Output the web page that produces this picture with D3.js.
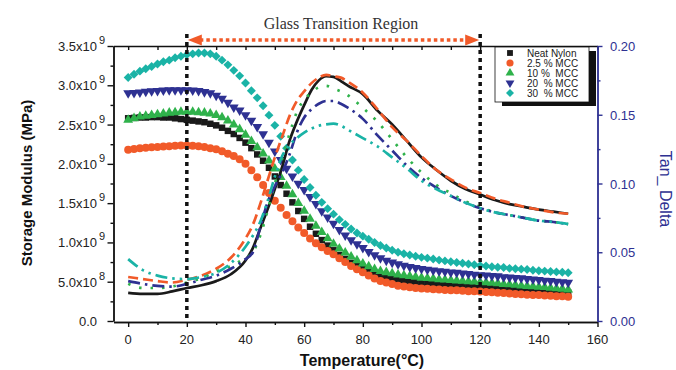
<!DOCTYPE html>
<html><head><meta charset="utf-8">
<script src="https://cdn.jsdelivr.net/npm/d3@7"></script>
<style>body{margin:0;background:#fff}text{font-family:"Liberation Sans",Arial,sans-serif}</style>
</head><body><svg id="c" width="676" height="370"></svg>
<script>
// ---------- DATA ----------
const temps = [0,2,4,6,8,10,12,14,16,18,20,22,24,26,28,30,32,34,36,38,40,42,44,46,48,50,52,54,56,58,60,62,64,66,68,70,72,74,76,78,80,82,84,86,88,90,92,94,96,98,100,102,104,106,108,110,112,114,116,118,120,122,124,126,128,130,132,134,136,138,140,142,144,146,148,150];
// storage modulus, in units of 1e9 MPa
const neatNylonSM = [2.58,2.585,2.59,2.59,2.595,2.595,2.59,2.59,2.58,2.57,
 2.56,2.55,2.54,2.53,2.51,2.49,2.46,2.42,2.38,2.33,
 2.27,2.20,2.12,2.04,1.95,1.84,1.73,1.62,1.51,1.40,
 1.30,1.20,1.11,1.03,0.96,0.90,0.84,0.79,0.74,0.70,
 0.66,0.625,0.59,0.56,0.545,0.535,0.525,0.515,0.505,0.50,
 0.49,0.485,0.48,0.47,0.465,0.46,0.455,0.45,0.445,0.44,
 0.44,0.435,0.43,0.42,0.415,0.41,0.405,0.40,0.395,0.39,
 0.385,0.38,0.375,0.37,0.365,0.36];
const mcc25SM = [2.18,2.19,2.20,2.205,2.21,2.215,2.22,2.225,2.23,2.235,
 2.235,2.23,2.225,2.215,2.20,2.185,2.16,2.13,2.10,2.06,
 2.00,1.92,1.83,1.73,1.63,1.53,1.44,1.35,1.27,1.19,
 1.12,1.05,0.99,0.94,0.89,0.85,0.80,0.75,0.70,0.66,
 0.62,0.58,0.54,0.51,0.49,0.47,0.45,0.44,0.43,0.42,
 0.415,0.41,0.405,0.40,0.395,0.39,0.39,0.385,0.38,0.38,
 0.375,0.37,0.365,0.36,0.355,0.35,0.345,0.34,0.335,0.33,
 0.33,0.325,0.32,0.315,0.315,0.31];
const mcc10SM = [2.56,2.58,2.60,2.61,2.62,2.63,2.64,2.65,2.655,2.66,
 2.66,2.66,2.655,2.65,2.64,2.62,2.59,2.55,2.50,2.44,
 2.37,2.29,2.21,2.13,2.04,1.94,1.83,1.72,1.61,1.50,
 1.40,1.30,1.21,1.13,1.05,0.98,0.92,0.87,0.82,0.77,
 0.73,0.695,0.66,0.635,0.62,0.605,0.59,0.58,0.57,0.56,
 0.55,0.545,0.54,0.53,0.525,0.52,0.515,0.51,0.505,0.50,
 0.495,0.49,0.485,0.48,0.47,0.465,0.46,0.45,0.445,0.44,
 0.435,0.43,0.42,0.415,0.41,0.40];
const mcc20SM = [2.90,2.905,2.91,2.92,2.925,2.93,2.935,2.94,2.94,2.94,
 2.94,2.935,2.93,2.915,2.90,2.87,2.83,2.78,2.72,2.68,
 2.62,2.55,2.47,2.38,2.27,2.16,2.05,1.94,1.84,1.75,
 1.67,1.58,1.49,1.40,1.32,1.24,1.16,1.09,1.03,0.98,
 0.93,0.88,0.84,0.80,0.77,0.745,0.725,0.705,0.69,0.675,
 0.665,0.655,0.645,0.635,0.63,0.62,0.615,0.605,0.60,0.59,
 0.585,0.58,0.575,0.57,0.56,0.555,0.55,0.545,0.535,0.53,
 0.525,0.515,0.51,0.50,0.495,0.49];
const mcc30SM = [3.10,3.14,3.18,3.21,3.24,3.27,3.30,3.32,3.35,3.37,
 3.39,3.40,3.41,3.41,3.40,3.37,3.32,3.26,3.19,3.12,
 3.03,2.93,2.84,2.74,2.62,2.49,2.35,2.20,2.05,1.92,
 1.80,1.70,1.60,1.51,1.43,1.36,1.29,1.23,1.17,1.12,
 1.08,1.04,1.00,0.96,0.93,0.90,0.875,0.855,0.84,0.825,
 0.81,0.80,0.79,0.775,0.765,0.755,0.745,0.735,0.725,0.715,
 0.705,0.70,0.69,0.685,0.68,0.67,0.665,0.66,0.655,0.645,
 0.64,0.635,0.63,0.625,0.62,0.615];

const tanTemps = [0,5,10,15,20,25,30,35,40,42.5,45,47.5,50,52.5,55,57.5,60,62.5,65,67.5,70,72.5,75,80,85,90,95,100,105,110,115,120,125,130,135,140,145,150];
const neatNylonTan = [0.0204,0.0197,0.0197,0.0215,0.024,0.026,0.029,0.034,0.044,
 0.053,0.067,0.081,0.096,0.112,0.131,0.145,0.157,0.168,0.175,0.178,0.1775,0.1745,0.171,
 0.165,0.153,0.143,0.131,0.119,0.110,0.102,0.096,0.092,0.088,0.085,0.083,0.081,0.0795,0.078];
const mcc25Tan = [0.032,0.0305,0.029,0.028,0.030,0.033,0.038,0.046,0.060,
 0.070,0.085,0.102,0.119,0.134,0.149,0.160,0.167,0.173,0.177,0.179,0.178,0.177,0.174,
 0.166,0.154,0.141,0.131,0.120,0.110,0.103,0.097,0.093,0.089,0.086,0.083,0.081,0.079,0.078];
const mcc10Tan = [0.027,0.024,0.024,0.025,0.028,0.031,0.036,0.040,0.046,
 0.050,0.062,0.080,0.100,0.118,0.136,0.152,0.161,0.166,0.170,0.171,0.169,0.167,0.164,
 0.155,0.145,0.132,0.119,0.108,0.099,0.093,0.087,0.083,0.079,0.077,0.075,0.073,0.072,0.0705];
const mcc20Tan = [0.029,0.027,0.0255,0.025,0.027,0.030,0.033,0.038,0.045,
 0.050,0.068,0.086,0.098,0.108,0.121,0.137,0.148,0.154,0.158,0.160,0.160,0.158,0.155,
 0.147,0.135,0.124,0.113,0.104,0.097,0.091,0.086,0.082,0.079,0.077,0.075,0.073,0.072,0.0705];
const mcc30Tan = [0.045,0.037,0.033,0.031,0.0305,0.032,0.035,0.042,0.054,
 0.062,0.072,0.087,0.105,0.120,0.128,0.133,0.137,0.140,0.142,0.143,0.1435,0.142,0.139,
 0.133,0.127,0.119,0.111,0.102,0.096,0.091,0.086,0.082,0.079,0.077,0.075,0.073,0.072,0.0705];

const seriesNames = ["Neat Nylon","2.5 % MCC","10 %  MCC","20  % MCC","30  % MCC"];
const xTicks = [0,20,40,60,80,100,120,140,160];
const xMinorTicks = [10,30,50,70,90,110,130,150];
const smTicks = [0,0.5,1.0,1.5,2.0,2.5,3.0,3.5];
const smTickMain = ["0.0","5.0x10","1.0x10","1.5x10","2.0x10","2.5x10","3.0x10","3.5x10"];
const smTickExp = ["","8","9","9","9","9","9","9"];
const smMinorTicks = [0.25,0.75,1.25,1.75,2.25,2.75,3.25];
const tanTicks = [0,0.05,0.10,0.15,0.20];
const tanMinorTicks = [0.025,0.075,0.125,0.175];
const regionBounds = [20,120];
const titleText = "Glass Transition Region";

// ---------- STYLE ----------
const colors = ["#1a1a1a","#f15a29","#2fb24b","#2e3192","#1ab3a6"];
const blue = "#2e3192";
const svg = d3.select("#c");
const x = d3.scaleLinear().domain([-5,160]).range([113.5,597.5]);
const yL = d3.scaleLinear().domain([0,3.5]).range([321,46]);
const yR = d3.scaleLinear().domain([0,0.2]).range([321,46]);

const smSeries = [neatNylonSM,mcc25SM,mcc10SM,mcc20SM,mcc30SM];
const tanSeries = [neatNylonTan,mcc25Tan,mcc10Tan,mcc20Tan,mcc30Tan];
const symbols = [
  {t:d3.symbolSquare,s:42,r:0},
  {t:d3.symbolCircle,s:50,r:0},
  {t:d3.symbolTriangle,s:42,r:0},
  {t:d3.symbolTriangle,s:42,r:180},
  {t:d3.symbolSquare,s:40,r:45}
];
const legendSize = [34,40,34,34,32];
const dashes = [null,"10,5","2.5,9","12,5,2.5,5","12,5,2.5,5,2.5,5"];

// markers
smSeries.forEach((arr,i)=>{
  const g = svg.append("g");
  const sym = d3.symbol().type(symbols[i].t).size(symbols[i].s);
  g.selectAll("path").data(arr).join("path")
    .attr("d",sym)
    .attr("transform",(d,j)=>`translate(${x(temps[j])},${yL(d)}) rotate(${symbols[i].r})`)
    .attr("fill",colors[i]);
});

// tan delta lines
const line = d3.line().x(d=>x(d[0])).y(d=>yR(d[1])).curve(d3.curveMonotoneX);
tanSeries.forEach((arr,i)=>{
  svg.append("path").datum(arr.map((v,j)=>[tanTemps[j],v]))
    .attr("d",line).attr("fill","none").attr("stroke",colors[i])
    .attr("stroke-width",2.7).attr("stroke-dasharray",dashes[i]);
});

// axes
function styleAxis(g,col){ g.selectAll("path,line").attr("stroke",col).attr("stroke-width",1.4); g.selectAll("text").remove(); }
const xb = svg.append("g").attr("transform","translate(0,322)");
xb.call(d3.axisBottom(x).tickValues(xTicks).tickSize(5).tickSizeOuter(0)); styleAxis(xb,"#111");
const xbm = svg.append("g").attr("transform","translate(0,322)");
xbm.call(d3.axisBottom(x).tickValues(xMinorTicks).tickSize(3).tickSizeOuter(0)); styleAxis(xbm,"#111");
svg.append("g").selectAll("text").data(xTicks).join("text")
  .attr("x",d=>x(d)).attr("y",344).attr("text-anchor","middle")
  .attr("font-size",13).attr("fill","#222").text(d=>d);
const xt = svg.append("g").attr("transform","translate(0,46)");
xt.call(d3.axisBottom(x).tickValues(xTicks.concat(xMinorTicks)).tickSize(4).tickSizeOuter(0)); styleAxis(xt,"#111");
const yl = svg.append("g").attr("transform","translate(113.5,0)");
yl.call(d3.axisLeft(yL).tickValues(smTicks).tickSize(6).tickSizeOuter(0)); styleAxis(yl,"#111");
const ylm = svg.append("g").attr("transform","translate(113.5,0)");
ylm.call(d3.axisLeft(yL).tickValues(smMinorTicks).tickSize(3).tickSizeOuter(0)); styleAxis(ylm,"#111");
const lab = svg.append("g");
smTicks.forEach((v,i)=>{
  lab.append("text").attr("x",97).attr("y",yL(v)+5).attr("text-anchor","end")
    .attr("font-size",13).attr("fill","#222").text(smTickMain[i]);
  if(smTickExp[i]) lab.append("text").attr("x",99).attr("y",yL(v)-2)
    .attr("font-size",11).attr("fill","#222").text(smTickExp[i]);
});
const yr = svg.append("g").attr("transform","translate(597.5,0)");
yr.call(d3.axisRight(yR).tickValues(tanTicks).tickSize(5).tickSizeOuter(0)); styleAxis(yr,blue);
const yrm = svg.append("g").attr("transform","translate(597.5,0)");
yrm.call(d3.axisRight(yR).tickValues(tanMinorTicks).tickSize(3).tickSizeOuter(0)); styleAxis(yrm,blue);
svg.append("g").selectAll("text").data(tanTicks).join("text")
  .attr("x",610).attr("y",d=>yR(d)+5).attr("font-size",13).attr("fill",blue)
  .text(d=>d3.format(".2f")(d));

// axis titles
svg.append("text").attr("transform","translate(32,183) rotate(-90)").attr("text-anchor","middle")
  .attr("font-size",15).attr("font-weight","bold").attr("fill","#111").text("Storage Modulus (MPa)");
svg.append("text").attr("x",362).attr("y",366).attr("text-anchor","middle")
  .attr("font-size",16).attr("font-weight","bold").attr("fill","#111").text("Temperature(°C)");
svg.append("text").attr("transform","translate(660,189) rotate(90)").attr("text-anchor","middle")
  .attr("font-size",16).attr("fill",blue).text("Tan_ Delta");

// glass transition region markers
regionBounds.forEach(t=>{
  svg.append("line").attr("x1",x(t)).attr("x2",x(t)).attr("y1",34).attr("y2",320)
    .attr("stroke","#111").attr("stroke-width",3.5).attr("stroke-dasharray","4,4");
});
const orange = "#f15a29";
const ax1 = x(regionBounds[0]), ax2 = x(regionBounds[1]), ay = 40;
svg.append("line").attr("x1",ax1+13).attr("x2",ax2-13).attr("y1",ay).attr("y2",ay)
  .attr("stroke",orange).attr("stroke-width",3.5).attr("stroke-dasharray","3.5,3");
svg.append("path").attr("d",`M${ax1+1},${ay} L${ax1+15},${ay-5.5} L${ax1+15},${ay+5.5} Z`).attr("fill",orange);
svg.append("path").attr("d",`M${ax2-1},${ay} L${ax2-15},${ay-5.5} L${ax2-15},${ay+5.5} Z`).attr("fill",orange);
svg.append("text").attr("x",341).attr("y",29).attr("text-anchor","middle")
  .style("font-family","'Liberation Serif','Times New Roman',serif").attr("font-size",16).attr("fill","#333").text(titleText);

// legend
const lg = svg.append("g");
lg.append("rect").attr("x",502).attr("y",51).attr("width",94).attr("height",55).attr("fill","#111");
lg.append("rect").attr("x",495).attr("y",47).attr("width",94).attr("height",55).attr("fill","#fff").attr("stroke","#111").attr("stroke-width",0.8);
seriesNames.forEach((n,i)=>{
  const cy = 53 + i*10;
  lg.append("path").attr("d",d3.symbol().type(symbols[i].t).size(legendSize[i])())
    .attr("transform",`translate(510,${cy}) rotate(${symbols[i].r})`).attr("fill",colors[i]);
  lg.append("text").attr("x",527).attr("y",cy+3.5).attr("font-size",10).attr("fill","#222")
    .style("white-space","pre").text(n);
});
</script></body></html>
